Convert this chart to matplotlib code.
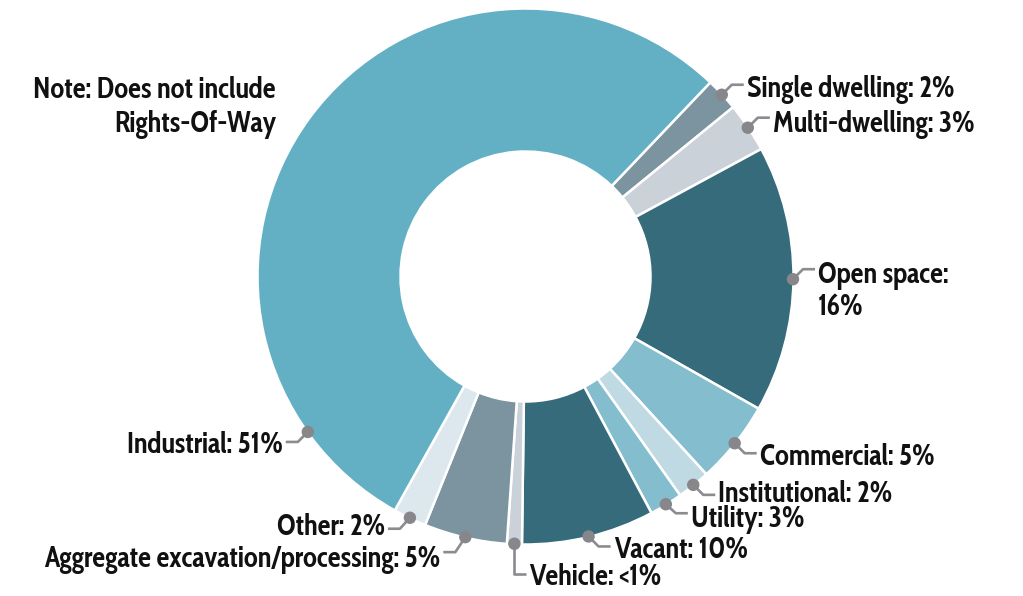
import matplotlib
matplotlib.use("Agg")
import matplotlib.pyplot as plt
from matplotlib.patches import Circle
import numpy as np

# ---------------- data ----------------
categories = ["Single dwelling", "Multi-dwelling", "Open space", "Commercial",
              "Institutional", "Utility", "Vacant", "Vehicle",
              "Aggregate excavation/processing", "Other", "Industrial"]
shares = [2.0, 3.0, 16.1, 5.0, 2.0, 2.0, 8.0, 0.9, 5.0, 2.0, 54.0]
label_texts = ["Single dwelling: 2%", "Multi-dwelling: 3%", "Open space:\n16%",
               "Commercial: 5%", "Institutional: 2%", "Utility: 3%",
               "Vacant: 10%", "Vehicle: <1%",
               "Aggregate excavation/processing: 5%", "Other: 2%",
               "Industrial: 51%"]
note_lines = ["Note: Does not include", "Rights-Of-Way"]

colors = ["#7b94a0", "#cbd1d8", "#356b7a", "#84bdcd", "#c0dae3", "#84bdcd",
          "#356b7a", "#cbd1d8", "#7b94a0", "#dde8ee", "#63b0c5"]

# leader layout: (horizontal dir, vertical dir (image), kind, fraction along wedge,
#                 diagonal drop px, baseline offset px)
leaders = [(1, -1, "diag", 0.5, 10, 12), (1, -1, "diag", 0.5, 10, 14),
           (1, -1, "diag", 0.5, 10, 14), (1, 1, "diag", 0.5, 10, 12),
           (1, 1, "diag", 0.5, 10, 7), (1, 1, "diag", 0.5, 9, 14),
           (1, 1, "diag", 0.5, 10, 12), (1, 1, "vert", 0.5, 30, 11),
           (-1, 1, "diag", 0.5, 15, 15), (-1, 1, "diag", 0.5, 11, 6),
           (-1, 1, "diag", 0.13, 10, 11)]

W, H = 1023, 596
FONT = ["Cabin Condensed", "Barlow", "DejaVu Sans"]
FS = 20.5
LEADER_C = "#8b8b90"
DOT_C = "#86868b"

fig = plt.figure(figsize=(W / 100, H / 100), dpi=100)
ax = fig.add_axes([0, 0, 1, 1])

cx, cy = 525.5, H - 276.5
R, r_in = 268.0, 125.0

wedges, _ = ax.pie(shares, colors=colors, startangle=90 - 43.6, counterclock=False,
                   center=(cx, cy), radius=R,
                   wedgeprops=dict(width=R - r_in, edgecolor="white", linewidth=1.8))

ax.set_xlim(0, W)
ax.set_ylim(0, H)
ax.set_aspect("auto")
ax.axis("off")

for w, txt, (hd, vd, kind, frac, drop, boff) in zip(wedges, label_texts, leaders):
    t1, t2 = w.theta1, w.theta2
    ang = np.deg2rad(t2 - frac * (t2 - t1))
    dx, dy = cx + (R - 0.5) * np.cos(ang), cy + (R - 0.5) * np.sin(ang)
    if kind == "diag":
        ex, ey = dx + hd * 10, dy - vd * drop
    else:
        ex, ey = dx, dy - drop
    hx = ex + hd * 12
    ax.plot([dx, ex, hx], [dy, ey, ey], color=LEADER_C, lw=1.9,
            solid_capstyle="butt", solid_joinstyle="round", zorder=4)
    ax.add_patch(Circle((dx, dy), 5.5, color=DOT_C, zorder=5))
    tx = hx + hd * 3
    ha = "left" if hd > 0 else "right"
    for i, line in enumerate(txt.split("\n")):
        ax.text(tx, ey - boff - i * 32, line, ha=ha, va="baseline",
                fontsize=FS, fontweight="bold", family=FONT, color="#111111",
                zorder=6)

for i, line in enumerate(note_lines):
    ax.text(276, H - 98 - i * 34, line, ha="right", va="baseline",
            fontsize=FS, fontweight="bold", family=FONT, color="#111111")

fig.savefig("out.png", dpi=100)
